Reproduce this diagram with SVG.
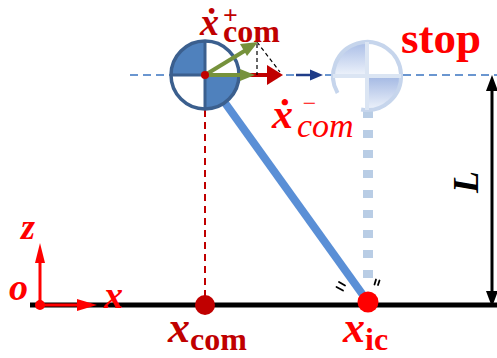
<svg xmlns="http://www.w3.org/2000/svg" width="497" height="358" viewBox="0 0 497 358">
<defs>
<style>
.mx{font-family:"Liberation Serif","DejaVu Serif",serif;font-weight:bold;font-style:italic}
.sb{font-family:"Liberation Serif","DejaVu Serif",serif;font-weight:bold;font-style:normal}
.si{font-family:"Liberation Serif","DejaVu Serif",serif;font-weight:normal;font-style:italic}
.dr{fill:#c00000}
.br{fill:#ff0000}
</style>
<linearGradient id="g1" x1="0" y1="0" x2="0" y2="1">
<stop offset="0" stop-color="#a9bde6"/>
<stop offset="1" stop-color="#eef3fb"/>
</linearGradient>
<linearGradient id="g2" x1="0" y1="0" x2="0" y2="1">
<stop offset="0" stop-color="#a3b8e3"/>
<stop offset="1" stop-color="#eef3fb"/>
</linearGradient>
</defs>
<rect width="497" height="358" fill="#ffffff"/>

<g id="connectors">
<line x1="130" y1="75" x2="497" y2="75" stroke="#6a96d0" stroke-width="2" stroke-dasharray="8 5"/>
<line x1="205" y1="110" x2="205" y2="296" stroke="#c00000" stroke-width="2" stroke-dasharray="7 5"/>
<line x1="368" y1="110" x2="368" y2="278" stroke="#b9cde5" stroke-width="10" stroke-dasharray="8 12"/>
<line x1="205" y1="75" x2="368" y2="302" stroke="#5a8fd6" stroke-width="8"/>
<line x1="30" y1="305" x2="497" y2="305" stroke="#000" stroke-width="5"/>
<line x1="492" y1="88" x2="492" y2="294" stroke="#000" stroke-width="3"/>
<polygon points="486,91 492,75 498,91" fill="#000"/>
<polygon points="486,291 492,307 498,291" fill="#000"/>
<line x1="296" y1="75" x2="314" y2="75" stroke="#1f3c88" stroke-width="2.5"/>
<polygon points="310,69.5 323,75 310,80.5" fill="#1f3c88"/>
<g stroke="#000" stroke-width="1.8" stroke-linecap="round">
<line x1="339" y1="282" x2="345" y2="285.5"/>
<line x1="336.5" y1="287" x2="343" y2="290.5"/>
<line x1="376" y1="279.5" x2="374.5" y2="284.5"/>
<line x1="379.5" y1="280.5" x2="378" y2="285"/>
</g>
</g>

<g id="ghost-body">
<path d="M367,76 L333,76 A34,34 0 0 1 367,42 Z" fill="url(#g1)"/>
<path d="M367,76 L401,76 A34,34 0 0 1 367,110 Z" fill="url(#g2)"/>
<path d="M337.6,93 A34,34 0 1 1 361.1,109.5" fill="none" stroke="#c6d5ec" stroke-width="4"/>
<line x1="333" y1="76" x2="401" y2="76" stroke="#dbe5f3" stroke-width="4"/>
<line x1="367" y1="42" x2="367" y2="110" stroke="#dbe5f3" stroke-width="4"/>
</g>

<g id="body">
<circle cx="205" cy="75" r="34" fill="#ffffff"/>
<path d="M205,75 L171,75 A34,34 0 0 1 205,41 Z" fill="#4f81bd"/>
<path d="M205,75 L239,75 A34,34 0 0 1 205,109 Z" fill="#4f81bd"/>
<line x1="171" y1="75" x2="239" y2="75" stroke="#3b5f8e" stroke-width="3"/>
<line x1="205" y1="41" x2="205" y2="109" stroke="#3b5f8e" stroke-width="3"/>
<circle cx="205" cy="75" r="34" fill="none" stroke="#3b5f8e" stroke-width="3.5"/>
</g>

<g id="velocity">
<line x1="205" y1="75" x2="270" y2="75" stroke="#c00000" stroke-width="4"/>
<polygon points="267,65 283,75 267,85" fill="#c00000"/>
<g stroke="#000" stroke-width="1.2" stroke-dasharray="4 3" fill="none">
<line x1="257" y1="44" x2="257" y2="75"/>
<line x1="257" y1="42" x2="280" y2="72"/>
</g>
<line x1="205" y1="75" x2="243" y2="75" stroke="#76923c" stroke-width="4"/>
<polygon points="240,69 255,75 240,81" fill="#76923c"/>
<line x1="205" y1="75" x2="246" y2="50" stroke="#76923c" stroke-width="4"/>
<polygon points="240,44 258,42 247,56" fill="#76923c"/>
<circle cx="205" cy="75" r="4" fill="#c00000"/>
</g>

<g id="foot">
<circle cx="368" cy="302" r="10.5" fill="#ff0000"/>
</g>
<g id="com-proj">
<circle cx="205" cy="305" r="10" fill="#c00000"/>
</g>

<g id="axes">
<line x1="40" y1="305" x2="40" y2="260" stroke="#ff0000" stroke-width="3"/>
<polygon points="35,263 40,243 45,263" fill="#ff0000"/>
<line x1="40" y1="305" x2="80" y2="305" stroke="#ff0000" stroke-width="3"/>
<polygon points="77,299 97,305 77,311" fill="#ff0000"/>
<circle cx="40" cy="305" r="5" fill="#ff0000"/>
<text class="mx br" x="21" y="239" font-size="36">z</text>
<text class="mx br" x="9" y="300" font-size="38">o</text>
<text class="mx br" x="104" y="308" font-size="38">x</text>
</g>

<g id="labels">
<text class="dr" x="168" y="342"><tspan class="mx" font-size="44">x</tspan><tspan class="sb" font-size="32" y="350">com</tspan></text>
<text class="br" x="343" y="342"><tspan class="mx" font-size="44">x</tspan><tspan class="sb" font-size="32" y="350">ic</tspan></text>
<text class="dr"><tspan class="mx" x="200" y="35" font-size="38">ẋ</tspan><tspan class="sb" x="223" y="24" font-size="26">+</tspan><tspan class="sb" x="223" y="42" font-size="32">com</tspan></text>
<text class="br"><tspan class="mx" x="272" y="128" font-size="42">ẋ</tspan><tspan class="si" x="301" y="111" font-size="24">−</tspan><tspan class="si" x="297" y="137" font-size="34">com</tspan></text>
<text class="sb br" x="401" y="53" font-size="45">stop</text>
<text class="mx" fill="#000" x="0" y="0" font-size="36" transform="translate(478,182) rotate(-90)" text-anchor="middle">L</text>
</g>
</svg>
